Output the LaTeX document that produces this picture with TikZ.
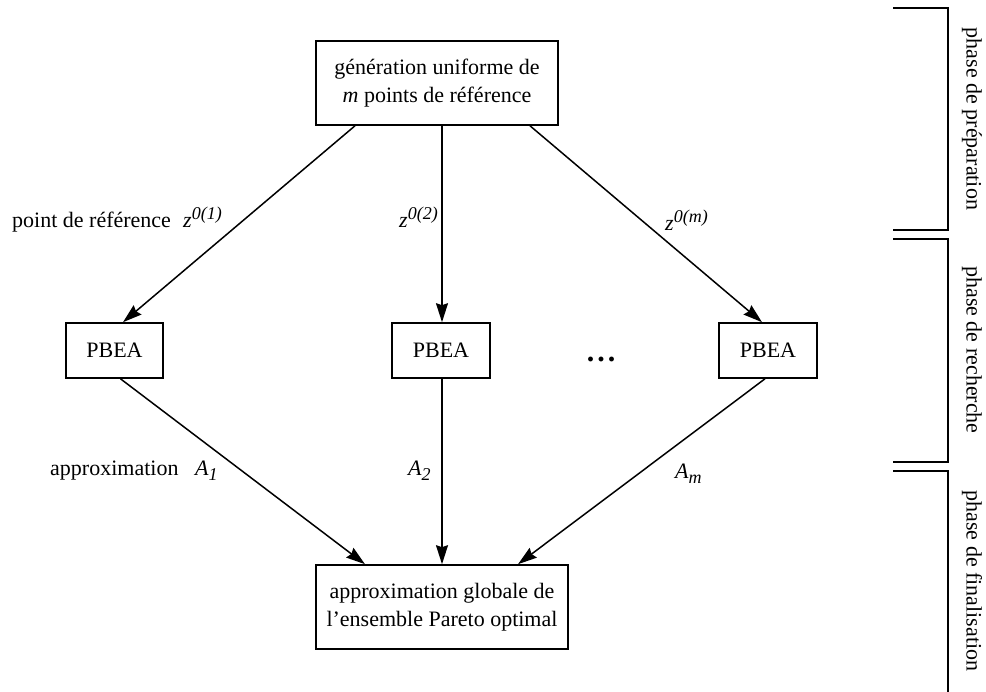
\documentclass[tikz,border=0pt]{standalone}
\usepackage{fontspec}
\setmainfont{Liberation Serif}
\usetikzlibrary{arrows.meta}
\newcommand{\supit}[1]{\raisebox{8pt}{\fontsize{18}{18}\selectfont\itshape #1}}
\newcommand{\subit}[1]{\raisebox{-5pt}{\fontsize{18}{18}\selectfont\itshape #1}}
\begin{document}
\begin{tikzpicture}[x=1pt,y=-1pt,
  every node/.style={font=\fontsize{22}{28}\selectfont},
  boxnode/.style={draw,line width=1.6pt,align=center,inner sep=0pt},
  lbl/.style={anchor=base west,inner sep=0pt},
  arr/.style={line width=1.5pt,-{Stealth[length=19pt,width=12pt,inset=2pt]}},
  brk/.style={line width=1.5pt},
  phase/.style={rotate=-90,inner sep=0pt}]
\useasboundingbox (0,0) rectangle (986,692);
% boxes
\node[boxnode,minimum width=242pt,minimum height=84pt] (top) at (437,83)
  {génération uniforme de\\\textit{m} points de référence};
\node[boxnode,minimum width=97pt,minimum height=55pt] (p1) at (114.5,350.5) {PBEA};
\node[boxnode,minimum width=98pt,minimum height=55pt] (p2) at (441,350.5) {PBEA};
\node[boxnode,minimum width=98pt,minimum height=55pt] (p3) at (768,350.5) {PBEA};
\node[boxnode,minimum width=252pt,minimum height=84pt] (bot) at (442,607)
  {approximation globale de\\l’ensemble Pareto optimal};
\node[font=\fontsize{30}{30}\selectfont\bfseries] (dots) at (601,359) {.\hspace{3pt}.\hspace{3pt}.};
% arrows
\draw[arr] ([xshift=-82pt]top.south) -- ([xshift=8.5pt]p1.north);
\draw[arr] ([xshift=5pt]top.south) -- ([xshift=1pt]p2.north);
\draw[arr] ([xshift=93pt]top.south) -- ([xshift=-6pt]p3.north);
\draw[arr] ([xshift=6pt]p1.south) -- ([xshift=-77pt]bot.north);
\draw[arr] ([xshift=1pt]p2.south) -- ([xshift=0pt]bot.north);
\draw[arr] ([xshift=-3pt]p3.south) -- ([xshift=76pt]bot.north);
% labels
\node[lbl] (l1) at (12,228) {point de référence};
\node[lbl] (z1) at (183,228) {\textit{z}\supit{0(1)}};
\node[lbl] (z2) at (399,228) {\textit{z}\supit{0(2)}};
\node[lbl] (zm) at (665,231) {\textit{z}\supit{0(m)}};
\node[lbl] (l2) at (50,476) {approximation};
\node[lbl] (a1) at (195,476) {\textit{A}\subit{1}};
\node[lbl] (a2) at (408,476) {\textit{A}\subit{2}};
\node[lbl] (am) at (675,479) {\textit{A}\subit{m}};
% brackets
\coordinate (b1a) at (893,8);
\coordinate (b1b) at (893,230);
\draw[brk] (b1a) -| (948,230) -- (b1b);
\coordinate (b2a) at (893,239);
\coordinate (b2b) at (893,462);
\draw[brk] (b2a) -| (948,462) -- (b2b);
\coordinate (b3a) at (893,471);
\draw[brk] (b3a) -| (948,692);
\node[phase] (ph1) at (972,119) {phase de préparation};
\node[phase] (ph2) at (972,350) {phase de recherche};
\node[phase] (ph3) at (972,581) {phase de finalisation};
\end{tikzpicture}
\end{document}
